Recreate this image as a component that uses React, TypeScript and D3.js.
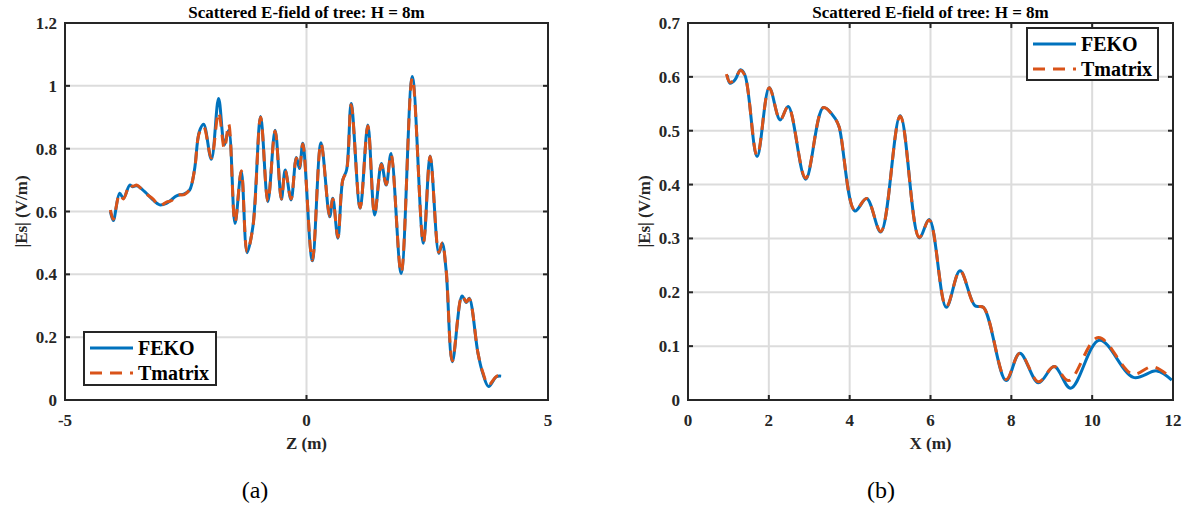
import React, { useRef, useEffect } from 'react'
import * as d3 from 'd3'

// panel (a): field along Z
const zFeko = [-4.06, -4.0, -3.87, -3.79, -3.66, -3.6, -3.51, -3.35, -3.18, -3.04, -2.9, -2.8, -2.69, -2.53, -2.42, -2.32, -2.22, -2.13, -1.97, -1.82, -1.7, -1.61, -1.48, -1.35, -1.23, -1.11, -0.95, -0.8, -0.65, -0.52, -0.44, -0.32, -0.21, -0.145, -0.077, 0.12, 0.3, 0.48, 0.545, 0.65, 0.75, 0.83, 0.925, 1.11, 1.27, 1.41, 1.55, 1.65, 1.75, 1.96, 2.19, 2.42, 2.56, 2.74, 2.81, 2.89, 3.02, 3.22, 3.31, 3.37, 3.55, 3.65, 3.77, 3.93, 4.03]
const eFekoZ = [0.6, 0.571, 0.658, 0.642, 0.684, 0.679, 0.682, 0.663, 0.637, 0.621, 0.626, 0.637, 0.65, 0.656, 0.668, 0.732, 0.854, 0.878, 0.766, 0.96, 0.812, 0.859, 0.562, 0.727, 0.469, 0.552, 0.902, 0.631, 0.859, 0.639, 0.732, 0.637, 0.772, 0.737, 0.817, 0.443, 0.819, 0.583, 0.642, 0.515, 0.7, 0.732, 0.944, 0.61, 0.875, 0.589, 0.753, 0.684, 0.785, 0.403, 1.03, 0.499, 0.777, 0.467, 0.499, 0.414, 0.122, 0.331, 0.31, 0.324, 0.149, 0.085, 0.043, 0.074, 0.076]
const zTmat = [-4.06, -4.0, -3.87, -3.79, -3.66, -3.6, -3.51, -3.35, -3.18, -3.04, -2.9, -2.8, -2.69, -2.53, -2.42, -2.32, -2.22, -2.13, -1.97, -1.82, -1.7, -1.61, -1.48, -1.35, -1.23, -1.11, -0.95, -0.8, -0.65, -0.52, -0.44, -0.32, -0.21, -0.145, -0.077, 0.12, 0.3, 0.48, 0.545, 0.65, 0.75, 0.83, 0.925, 1.11, 1.27, 1.41, 1.55, 1.65, 1.75, 1.96, 2.19, 2.42, 2.56, 2.74, 2.81, 2.89, 3.02, 3.22, 3.31, 3.37, 3.55, 3.65, 3.77, 3.93, 4.03]
const eTmatZ = [0.605, 0.575, 0.655, 0.64, 0.686, 0.68, 0.684, 0.66, 0.64, 0.618, 0.63, 0.634, 0.652, 0.654, 0.67, 0.73, 0.85, 0.87, 0.77, 0.915, 0.8, 0.878, 0.565, 0.73, 0.472, 0.55, 0.9, 0.633, 0.856, 0.64, 0.73, 0.64, 0.77, 0.74, 0.815, 0.445, 0.817, 0.585, 0.64, 0.518, 0.7, 0.73, 0.94, 0.612, 0.872, 0.592, 0.75, 0.686, 0.782, 0.405, 1.025, 0.5, 0.775, 0.47, 0.5, 0.416, 0.125, 0.333, 0.312, 0.322, 0.15, 0.088, 0.048, 0.075, 0.078]

// panel (b): field along X
const xFeko = [0.97, 1.04, 1.16, 1.3, 1.41, 1.71, 2.01, 2.28, 2.48, 2.91, 3.35, 3.64, 3.74, 4.13, 4.42, 4.77, 5.25, 5.72, 5.97, 6.39, 6.73, 7.1, 7.31, 7.87, 8.21, 8.67, 9.06, 9.47, 10.18, 11.02, 11.6, 11.97]
const eFekoX = [0.603, 0.588, 0.594, 0.613, 0.603, 0.452, 0.58, 0.52, 0.545, 0.41, 0.543, 0.523, 0.507, 0.351, 0.374, 0.312, 0.528, 0.301, 0.335, 0.172, 0.24, 0.175, 0.172, 0.036, 0.087, 0.032, 0.062, 0.022, 0.111, 0.042, 0.054, 0.037]
const xTmat = [0.95, 1.04, 1.16, 1.3, 1.41, 1.71, 2.01, 2.28, 2.48, 2.91, 3.35, 3.64, 3.74, 4.13, 4.42, 4.77, 5.25, 5.72, 5.97, 6.39, 6.73, 7.1, 7.31, 7.87, 8.21, 8.67, 9.06, 9.42, 10.15, 11.0, 11.5, 11.97]
const eTmatX = [0.605, 0.59, 0.596, 0.612, 0.602, 0.454, 0.58, 0.52, 0.545, 0.412, 0.543, 0.522, 0.507, 0.352, 0.374, 0.313, 0.527, 0.302, 0.334, 0.173, 0.24, 0.175, 0.172, 0.038, 0.087, 0.034, 0.062, 0.036, 0.116, 0.048, 0.062, 0.04]

const zTicks = [-5, 0, 5]
const xTicks = [0, 2, 4, 6, 8, 10, 12]
const yTicksA = [0, 0.2, 0.4, 0.6, 0.8, 1, 1.2]
const yTicksB = [0, 0.1, 0.2, 0.3, 0.4, 0.5, 0.6, 0.7]

const seriesNames = ['FEKO', 'Tmatrix']
const BLUE = '#0072BD'
const ORANGE = '#D95319'
const FONT = "'Liberation Serif', 'Times New Roman', Times, serif"
const DASH = '12,8'

function drawPanel(svg, o) {
    const x = d3.scaleLinear().domain(o.xDomain).range([o.left, o.right])
    const y = d3.scaleLinear().domain(o.yDomain).range([o.bottom, o.top])
    const g = svg.append('g').attr('font-family', FONT)

    // grid
    g.selectAll('.gx').data(o.xTicks).join('line')
        .attr('x1', d => x(d)).attr('x2', d => x(d))
        .attr('y1', o.top).attr('y2', o.bottom)
        .attr('stroke', '#dcdcdc').attr('stroke-width', 2)
    g.selectAll('.gy').data(o.yTicks).join('line')
        .attr('y1', d => y(d)).attr('y2', d => y(d))
        .attr('x1', o.left).attr('x2', o.right)
        .attr('stroke', '#dcdcdc').attr('stroke-width', 2)

    // curves
    const line = d3.line().x(d => x(d[0])).y(d => y(d[1])).curve(d3.curveCatmullRom.alpha(0.5))
    const fekoPts = o.fx.map((v, i) => [v, o.fy[i]])
    const tmatPts = o.tx.map((v, i) => [v, o.ty[i]])
    g.append('path').attr('d', line(fekoPts)).attr('fill', 'none')
        .attr('stroke', BLUE).attr('stroke-width', 3).attr('stroke-linejoin', 'round')
    g.append('path').attr('d', line(tmatPts)).attr('fill', 'none')
        .attr('stroke', ORANGE).attr('stroke-width', 3).attr('stroke-dasharray', DASH)

    // ticks on all four sides, pointing inward
    o.xTicks.forEach(t => {
        g.append('line').attr('x1', x(t)).attr('x2', x(t)).attr('y1', o.bottom).attr('y2', o.bottom - 5).attr('stroke', '#262626').attr('stroke-width', 2)
        g.append('line').attr('x1', x(t)).attr('x2', x(t)).attr('y1', o.top).attr('y2', o.top + 5).attr('stroke', '#262626').attr('stroke-width', 2)
    })
    o.yTicks.forEach(t => {
        g.append('line').attr('y1', y(t)).attr('y2', y(t)).attr('x1', o.left).attr('x2', o.left + 5).attr('stroke', '#262626').attr('stroke-width', 2)
        g.append('line').attr('y1', y(t)).attr('y2', y(t)).attr('x1', o.right).attr('x2', o.right - 5).attr('stroke', '#262626').attr('stroke-width', 2)
    })

    g.append('rect').attr('x', o.left).attr('y', o.top)
        .attr('width', o.right - o.left).attr('height', o.bottom - o.top)
        .attr('fill', 'none').attr('stroke', '#262626').attr('stroke-width', 2)

    // tick labels
    g.selectAll('.xl').data(o.xTicks).join('text')
        .attr('x', d => x(d)).attr('y', o.bottom + 26)
        .attr('text-anchor', 'middle').attr('font-weight', 'bold').attr('font-size', 17)
        .attr('fill', '#262626').text(d => d)
    g.selectAll('.yl').data(o.yTicks).join('text')
        .attr('x', o.left - 8).attr('y', d => y(d) + 6)
        .attr('text-anchor', 'end').attr('font-weight', 'bold').attr('font-size', 17)
        .attr('fill', '#262626').text(d => d)

    const cx = (o.left + o.right) / 2
    g.append('text').attr('x', cx).attr('y', 18).attr('text-anchor', 'middle')
        .attr('font-weight', 'bold').attr('font-size', 17).attr('fill', '#000')
        .text('Scattered E-field of tree: H = 8m')
    g.append('text').attr('x', cx).attr('y', o.bottom + 49).attr('text-anchor', 'middle')
        .attr('font-weight', 'bold').attr('font-size', 17).attr('fill', '#262626')
        .text(o.xLabel)
    g.append('text').attr('transform', `translate(${o.left - 38},${(o.top + o.bottom) / 2}) rotate(-90)`)
        .attr('text-anchor', 'middle').attr('font-weight', 'bold').attr('font-size', 17).attr('fill', '#262626')
        .text('|Es| (V/m)')
    g.append('text').attr('x', o.captionX).attr('y', 498).attr('text-anchor', 'middle')
        .attr('font-size', 24).attr('fill', '#000').text(o.caption)

    // legend
    const L = o.legend
    const lg = g.append('g').attr('transform', `translate(${L.x},${L.y})`)
    lg.append('rect').attr('width', L.w).attr('height', L.h)
        .attr('fill', '#fff').attr('stroke', '#262626').attr('stroke-width', 2)
    seriesNames.forEach((name, i) => {
        const yy = 16 + i * 25
        lg.append('line').attr('x1', 6).attr('x2', 49).attr('y1', yy).attr('y2', yy)
            .attr('stroke', i === 0 ? BLUE : ORANGE).attr('stroke-width', 3)
            .attr('stroke-dasharray', i === 0 ? null : DASH)
        lg.append('text').attr('x', 54).attr('y', yy + 7)
            .attr('font-weight', 'bold').attr('font-size', 20).attr('fill', '#000').text(name)
    })
}

export default function App() {
    const svgRef = useRef(null)

    useEffect(() => {
        const svg = d3.select(svgRef.current)
        svg.selectAll('*').remove()
        svg.append('rect').attr('width', 1190).attr('height', 508).attr('fill', '#fff')

        drawPanel(svg, {
            left: 65, right: 548, top: 23, bottom: 400,
            xDomain: [-5, 5], yDomain: [0, 1.2],
            xTicks: zTicks, yTicks: yTicksA,
            fx: zFeko, fy: eFekoZ, tx: zTmat, ty: eTmatZ,
            xLabel: 'Z (m)', caption: '(a)', captionX: 255,
            legend: { x: 84, y: 332, w: 132, h: 53 },
        })
        drawPanel(svg, {
            left: 688, right: 1173, top: 23, bottom: 400,
            xDomain: [0, 12], yDomain: [0, 0.7],
            xTicks: xTicks, yTicks: yTicksB,
            fx: xFeko, fy: eFekoX, tx: xTmat, ty: eTmatX,
            xLabel: 'X (m)', caption: '(b)', captionX: 881,
            legend: { x: 1027, y: 28, w: 131, h: 52 },
        })
    }, [])

    return (
        <svg ref={svgRef} width={1190} height={508}
            style={{ position: 'absolute', left: 0, top: 0 }} />
    )
}
